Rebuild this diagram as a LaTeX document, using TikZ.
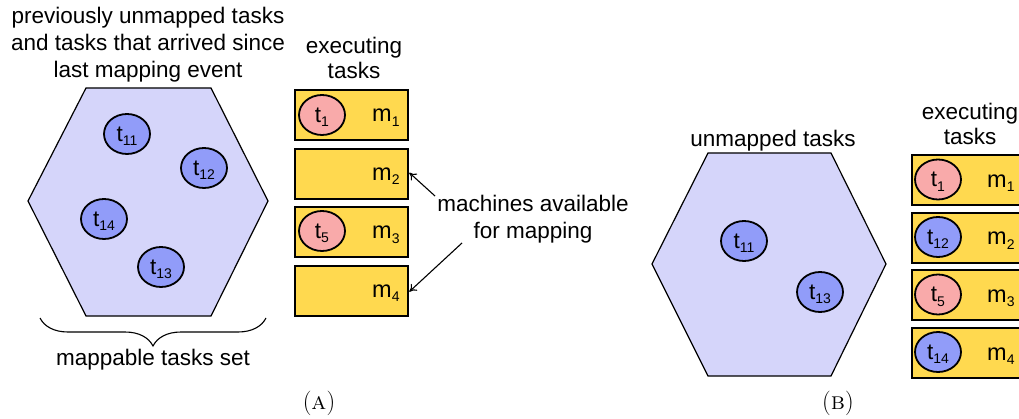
\documentclass[tikz,border=0pt]{standalone}
\usepackage{fontspec}
\setsansfont{Liberation Sans}
\usetikzlibrary{shapes.geometric,decorations.pathreplacing,arrows.meta}
\definecolor{hexfill}{RGB}{213,213,250}
\definecolor{taskblue}{RGB}{145,156,249}
\definecolor{taskred}{RGB}{249,170,170}
\definecolor{machyellow}{RGB}{255,217,79}
\newcommand{\lowsub}[1]{\raisebox{-4.5pt}[0pt][0pt]{\fontsize{14}{14}\selectfont #1}}
\tikzset{
  lbl/.style={font=\sffamily\fontsize{22.5}{27}\selectfont, inner sep=0pt, align=center},
  hexa/.style={draw=black, fill=hexfill, line width=1.2pt, line join=miter},
  task/.style={ellipse, draw=black, line width=1.8pt, minimum width=46pt, minimum height=40pt, inner sep=0pt,
    font=\sffamily\fontsize{22.5}{22.5}\selectfont},
  bluetask/.style={task, fill=taskblue},
  redtask/.style={task, fill=taskred},
  machine/.style={draw=black, fill=machyellow, line width=2.2pt, minimum width=113pt, minimum height=50pt, inner sep=0pt, anchor=north west},
  mlabel/.style={font=\sffamily\fontsize{23.5}{23.5}\selectfont, inner sep=0pt, anchor=base west},
  arr/.style={-{To[length=7pt,width=9pt]}, line width=1.1pt},
  captext/.style={font=\rmfamily\fontsize{24.5}{24.5}\selectfont, inner sep=0pt}
}
\begin{document}
\begin{tikzpicture}[x=1pt,y=-1pt]
\clip (0,0) rectangle (1019,419);
\fill[white] (0,0) rectangle (1019,419);

% ---------------- Panel A ----------------
\draw[hexa] (86,88) -- (211,88) -- (268,201) -- (211,316) -- (86,316) -- (28,201) -- cycle;
\node[lbl] (toptext) at (148,45) {previously unmapped tasks\\and tasks that arrived since\\last mapping event};
\node[bluetask] (a11) at (127,134) {t\lowsub{11}};
\node[bluetask] (a12) at (204,168) {t\lowsub{12}};
\node[bluetask] (a14) at (104,219) {t\lowsub{14}};
\node[bluetask] (a13) at (161,267) {t\lowsub{13}};

\node[lbl, font=\sffamily\fontsize{22.5}{25.5}\selectfont] (aexec) at (354,58) {executing\\tasks};
\node[machine] (am1) at (294.1,89.1) {};
\node[machine] (am2) at (294.1,147.6) {};
\node[machine] (am3) at (294.1,206.1) {};
\node[machine] (am4) at (294.1,264.6) {};
\node[redtask] (at1) at (322,115) {t\lowsub{1}};
\node[redtask] (at5) at (322,231) {t\lowsub{5}};
\node[mlabel] (aml1) at (372,122) {m\lowsub{1}};
\node[mlabel] (aml2) at (372,180.5) {m\lowsub{2}};
\node[mlabel] (aml3) at (372,239) {m\lowsub{3}};
\node[mlabel] (aml4) at (372,297.5) {m\lowsub{4}};

\node[lbl] (avail) at (533,219) {machines available\\for mapping};
\coordinate (ar1) at (435,196);
\coordinate (ar2) at (462,243);
\draw[arr] (ar1) -- ([yshift=1pt]am2.east);
\draw[arr] (ar2) -- ([yshift=-1pt]am4.east);

\coordinate (brl) at (40,318);
\coordinate (brr) at (266,318);
\draw[line width=1.1pt, decorate, decoration={brace, mirror, amplitude=28pt}] (brl) -- (brr);
\node[lbl] (mts) at (153,359.5) {mappable tasks set};
\node[captext] (capA) at (319,403) {(\textsc{a})};

% ---------------- Panel B ----------------
\draw[hexa] (708,153) -- (831,153) -- (886,264) -- (831,376) -- (708,376) -- (652,264) -- cycle;
\node[lbl] (unm) at (773,141) {unmapped tasks};
\node[bluetask] (b11) at (744,241) {t\lowsub{11}};
\node[bluetask] (b13) at (820,292) {t\lowsub{13}};

\node[lbl, font=\sffamily\fontsize{22.5}{25}\selectfont] (bexec) at (970,124) {executing\\tasks};
\node[machine] (bm1) at (911.1,154.1) {};
\node[machine] (bm2) at (911.1,211.6) {};
\node[machine] (bm3) at (911.1,269.1) {};
\node[machine] (bm4) at (911.1,326.6) {};
\node[redtask] (bt1) at (938,179.5) {t\lowsub{1}};
\node[bluetask] (bt12) at (938,237) {t\lowsub{12}};
\node[redtask] (bt5) at (938,294.5) {t\lowsub{5}};
\node[bluetask] (bt14) at (938,352) {t\lowsub{14}};
\node[mlabel] (bml1) at (987,187.5) {m\lowsub{1}};
\node[mlabel] (bml2) at (987,245) {m\lowsub{2}};
\node[mlabel] (bml3) at (987,302.5) {m\lowsub{3}};
\node[mlabel] (bml4) at (987,360) {m\lowsub{4}};
\node[captext] (capB) at (838,403) {(\textsc{b})};
\end{tikzpicture}
\end{document}
